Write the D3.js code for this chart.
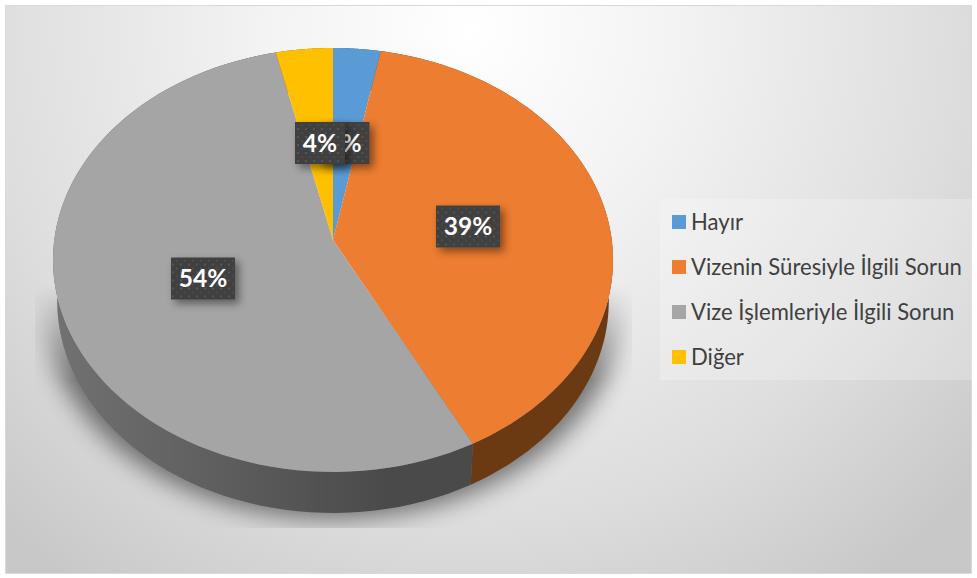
<!DOCTYPE html>
<html>
<head>
<meta charset="utf-8">
<script src="https://cdn.jsdelivr.net/npm/d3@7"></script>
<style>
  html, body { margin: 0; padding: 0; background: #fff; }
  svg { display: block; }
</style>
</head>
<body>
<svg id="chart" width="977" height="578"></svg>
<script>
// data
var categories = ["Hayır", "Vizenin Süresiyle İlgili Sorun", "Vize İşlemleriyle İlgili Sorun", "Diğer"];
var values = [3, 39.4, 54, 3.6];
var labels = ["3%", "39%", "54%", "4%"];
var colors = ["#5b9bd5", "#ed7d31", "#a5a5a5", "#ffc000"];
var sideColors = ["#2e4e6b", "#6b3a12", "#4a4a4a", "#7f6000"];

var svg = d3.select("svg#chart");
var defs = svg.append("defs");

// background
var bg = defs.append("radialGradient").attr("id", "bg")
    .attr("gradientUnits", "userSpaceOnUse")
    .attr("cx", 470).attr("cy", 30).attr("r", 680);
bg.append("stop").attr("offset", 0).attr("stop-color", "#ffffff");
bg.append("stop").attr("offset", 0.3).attr("stop-color", "#f3f3f3");
bg.append("stop").attr("offset", 0.72).attr("stop-color", "#dddddd");
bg.append("stop").attr("offset", 1).attr("stop-color", "#c8c8c8");

var blur = defs.append("filter").attr("id", "blur")
    .attr("x", "-10%").attr("y", "-10%").attr("width", "120%").attr("height", "120%");
blur.append("feGaussianBlur").attr("stdDeviation", 12);

var boxShadow = defs.append("filter").attr("id", "boxShadow")
    .attr("x", "-30%").attr("y", "-30%").attr("width", "160%").attr("height", "160%");
boxShadow.append("feDropShadow").attr("dx", 4).attr("dy", 4)
    .attr("stdDeviation", 4).attr("flood-color", "#000").attr("flood-opacity", 0.45);

var dots = defs.append("pattern").attr("id", "dots")
    .attr("patternUnits", "userSpaceOnUse").attr("width", 8).attr("height", 8);
dots.append("rect").attr("width", 8).attr("height", 8).attr("fill", "#404040");
dots.append("rect").attr("x", 1).attr("y", 1).attr("width", 2).attr("height", 2).attr("fill", "#555555");
dots.append("rect").attr("x", 5).attr("y", 5).attr("width", 2).attr("height", 2).attr("fill", "#4c4c4c");

var sideShade = defs.append("linearGradient").attr("id", "sideShade")
    .attr("gradientUnits", "userSpaceOnUse")
    .attr("x1", 52).attr("x2", 613).attr("y1", 0).attr("y2", 0);
sideShade.append("stop").attr("offset", 0).attr("stop-color", "#fff").attr("stop-opacity", 0.22);
sideShade.append("stop").attr("offset", 0.6).attr("stop-color", "#fff").attr("stop-opacity", 0);

// shadow fades in from the top instead of starting at a hard edge
var fade = defs.append("linearGradient").attr("id", "fade")
    .attr("gradientUnits", "userSpaceOnUse")
    .attr("x1", 0).attr("x2", 0).attr("y1", 285).attr("y2", 380);
fade.append("stop").attr("offset", 0).attr("stop-color", "#000");
fade.append("stop").attr("offset", 1).attr("stop-color", "#fff");
defs.append("mask").attr("id", "fadeMask")
    .attr("maskUnits", "userSpaceOnUse")
    .attr("x", 0).attr("y", 0).attr("width", 977).attr("height", 578)
  .append("rect").attr("width", 977).attr("height", 578).attr("fill", "url(#fade)");

svg.append("rect")
    .attr("x", 5.5).attr("y", 5.5).attr("width", 966).attr("height", 568)
    .attr("fill", "url(#bg)").attr("stroke", "#d9d9d9");

// pie layout, clockwise from twelve o'clock
var slices = d3.pie().sort(null)(values);

// tilted disc: projects an angle on the rim to the page
var cx = 333, cy = 240, rimX = 278.75, rimY = 210.1, tilt = 0.0943, depth = 41;
function rim(a, dy, shrink) {
    var u = Math.sin(a), v = -Math.cos(a), w = 1 - tilt * v;
    return [cx + shrink * rimX * u / w, cy + dy + rimY * v / w];
}
function arcPoints(a0, a1, dy, shrink) {
    return d3.range(0, 81).map(function(i) {
        return rim(a0 + (a1 - a0) * i / 80, dy, shrink);
    });
}
var line = d3.line();

// shadow below the pie, clipped like the reference
defs.append("clipPath").attr("id", "shadowClip").append("rect")
    .attr("x", 35).attr("y", 285).attr("width", 597).attr("height", 243);
svg.append("g").attr("clip-path", "url(#shadowClip)")
  .append("g").attr("mask", "url(#fadeMask)")
  .append("path")
    .attr("d", line(arcPoints(0, 2 * Math.PI, depth + 6, 1.03)) + "Z")
    .attr("fill", "#000").attr("opacity", 0.5)
    .attr("filter", "url(#blur)");

// walls
var walls = svg.append("g");
walls.selectAll("path")
    .data(slices)
    .enter().append("path")
    .attr("d", function(d) {
        return line(arcPoints(d.startAngle, d.endAngle, 0, 1)
            .concat(arcPoints(d.startAngle, d.endAngle, depth, 0.985).reverse())) + "Z";
    })
    .attr("fill", function(d, i) { return sideColors[i]; });
walls.append("path")
    .attr("d", line(arcPoints(slices[1].endAngle, slices[2].endAngle, 0, 1)
        .concat(arcPoints(slices[1].endAngle, slices[2].endAngle, depth, 0.985).reverse())) + "Z")
    .attr("fill", "url(#sideShade)");

// top of the pie
svg.append("g").selectAll("path")
    .data(slices)
    .enter().append("path")
    .attr("d", function(d) {
        return line([[cx, cy]].concat(arcPoints(d.startAngle, d.endAngle, 0, 1))) + "Z";
    })
    .attr("fill", function(d, i) { return colors[i]; });

// data labels, in series order so the 4% box lies over the 3% one
var labelPos = [[344.5, 143], [468, 226.5], [203, 278.5], [320, 143]];
var labelW = [50, 64, 64, 50];
var lab = svg.append("g").selectAll("g")
    .data(labels)
    .enter().append("g")
    .attr("transform", function(d, i) { return "translate(" + labelPos[i] + ")"; });
lab.append("rect")
    .attr("x", function(d, i) { return -labelW[i] / 2; })
    .attr("y", -21)
    .attr("width", function(d, i) { return labelW[i]; })
    .attr("height", 42)
    .attr("fill", "url(#dots)")
    .attr("filter", "url(#boxShadow)");
lab.append("text")
    .attr("text-anchor", "middle").attr("dy", 8.5)
    .attr("font-family", "Lato").attr("font-weight", 700).attr("font-size", 24.5)
    .attr("fill", "#fff")
    .text(function(d) { return d; });

// legend
svg.append("rect")
    .attr("x", 660).attr("y", 199).attr("width", 314).attr("height", 181)
    .attr("fill", "#fff").attr("opacity", 0.22);
var legendY = d3.scalePoint().domain(categories).range([222, 357]);
var legend = svg.append("g").selectAll("g")
    .data(categories)
    .enter().append("g")
    .attr("transform", function(d) { return "translate(672," + legendY(d) + ")"; });
legend.append("rect")
    .attr("y", -7).attr("width", 14).attr("height", 14)
    .attr("fill", function(d, i) { return colors[i]; });
legend.append("text")
    .attr("x", 19).attr("dy", 7.5)
    .attr("font-family", "Lato").attr("font-size", 22.1)
    .attr("fill", "#404040")
    .text(function(d) { return d; });
</script>
</body>
</html>
